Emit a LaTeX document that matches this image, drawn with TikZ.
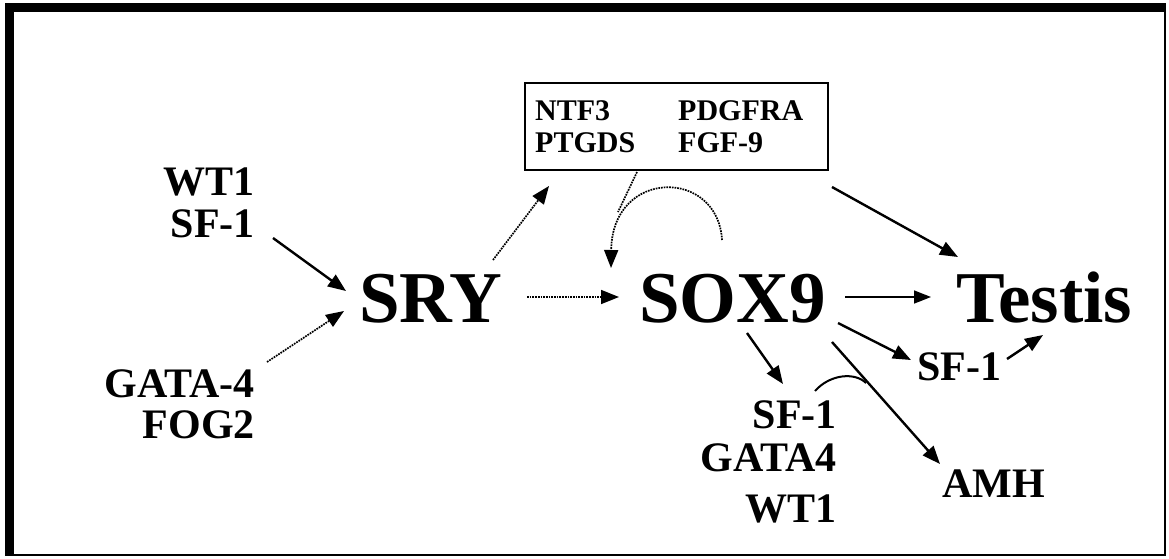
\documentclass[tikz,border=0pt]{standalone}
\usepackage{fontspec}
\setmainfont{Liberation Serif}
\usetikzlibrary{arrows.meta}
\tikzset{
  txt/.style={inner sep=0pt, font=\bfseries\fontsize{42}{44}\selectfont},
  bigtxt/.style={inner sep=0pt, font=\bfseries\fontsize{73}{75}\selectfont},
  boxtxt/.style={inner sep=0pt, font=\bfseries\fontsize{30}{32}\selectfont},
  arr/.style={line width=2.4pt, -{Triangle[length=18pt,width=14pt]}},
  thinarr/.style={line width=1.6pt, -{Triangle[length=17pt,width=13pt]}},
  dotarr/.style={line width=1.7pt, densely dotted, -{Triangle[length=18pt,width=14pt]}},
  dotline/.style={line width=1.7pt, densely dotted},
}
\begin{document}
\begin{tikzpicture}[x=1pt,y=-1pt]
\useasboundingbox (0,0) rectangle (1169,558);
% outer frame
\fill[black] (5,3) rectangle (14,556);
\fill[black] (5,3) rectangle (1166,12);
\fill[black] (1163.5,3) rectangle (1166,556);
\fill[black] (5,553.5) rectangle (1166,556);

% box
\node[draw, line width=2pt, minimum width=303pt, minimum height=87pt, inner sep=0pt] (box) at (676.5,126.5) {};
\node[boxtxt, anchor=base west] (ntf) at (535,120) {NTF3};
\node[boxtxt, anchor=base west] (ptg) at (535,152) {PTGDS};
\node[boxtxt, anchor=base west] (pdg) at (678,120) {PDGFRA};
\node[boxtxt, anchor=base west] (fgf) at (678,152) {FGF-9};

% left labels
\node[txt, anchor=base east] (wt1) at (255,195) {WT1};
\node[txt, anchor=base east] (sf1a) at (255,237) {SF-1};
\node[txt, anchor=base east] (gata) at (255,397) {GATA-4};
\node[txt, anchor=base east] (fog) at (255,438) {FOG2};

% main labels
\node[bigtxt, anchor=base west] (sry) at (359,322) {SRY};
\node[bigtxt, anchor=base west] (sox) at (639,322) {SOX9};
\node[bigtxt, anchor=base west] (testis) at (956,322) {Testis};

% right labels
\node[txt, anchor=base west] (sf1b) at (917,380) {SF-1};
\node[txt, anchor=base west] (amh) at (942,497) {AMH};
\node[txt, anchor=base east] (sf1c) at (837,428) {SF-1};
\node[txt, anchor=base east] (gata4) at (837,471) {GATA4};
\node[txt, anchor=base east] (wt1b) at (837,522) {WT1};

% coordinates
\coordinate (a1s) at (273,238);   \coordinate (a1e) at (346,291);
\coordinate (a2s) at (267,362);   \coordinate (a2e) at (344,311);
\coordinate (a3s) at (527,297);   \coordinate (a3e) at (619,297);
\coordinate (a4s) at (493,260);   \coordinate (a4e) at (549,186);
\coordinate (a5s) at (637,172);   \coordinate (a5e) at (618,212);
\coordinate (a6s) at (722,240);   \coordinate (a6e) at (611,268);
\coordinate (a7s) at (845,297);   \coordinate (a7e) at (931,297);
\coordinate (a8s) at (832,187);   \coordinate (a8e) at (958,257);
\coordinate (a9s) at (838,323);   \coordinate (a9e) at (911,360);
\coordinate (a10s) at (1007,359); \coordinate (a10e) at (1043,335);
\coordinate (a11s) at (832,342);  \coordinate (a11e) at (940,464);
\coordinate (a12s) at (747,333);  \coordinate (a12e) at (783,384);
\coordinate (a13s) at (815,391);  \coordinate (a13e) at (866,383);

% connectors
\draw[arr] (a1s) -- (a1e);
\draw[dotarr] (a2s) -- (a2e);
\draw[dotarr] (a3s) -- (a3e);
\draw[dotarr] (a4s) -- (a4e);
\draw[dotline] (a5s) -- (a5e);
\draw[dotarr] (a6s) .. controls (718,168) and (612,168) .. (a6e);
\draw[thinarr] (a7s) -- (a7e);
\draw[arr] (a8s) -- (a8e);
\draw[arr] (a9s) -- (a9e);
\draw[arr] (a10s) -- (a10e);
\draw[arr] (a11s) -- (a11e);
\draw[arr] (a12s) -- (a12e);
\draw[line width=2pt] (a13s) .. controls (830,374) and (855,372) .. (a13e);
\end{tikzpicture}
\end{document}
